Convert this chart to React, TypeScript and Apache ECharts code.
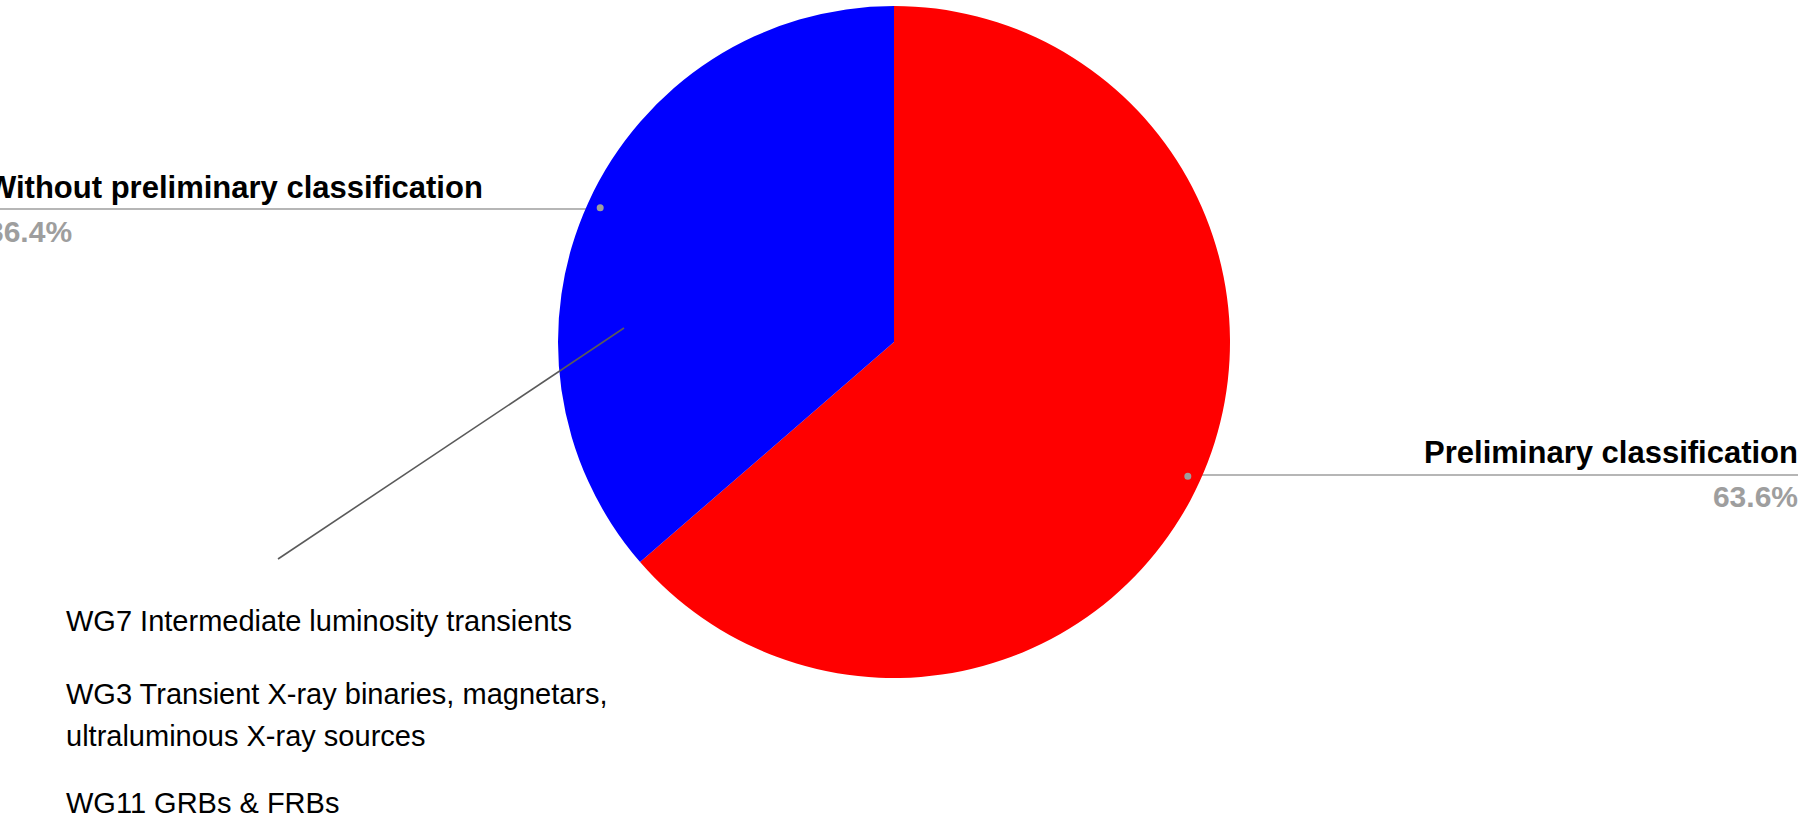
import React, { useEffect, useRef } from 'react';
import * as echarts from 'echarts';

// ---- data ----
const categories = ['Preliminary classification', 'Without preliminary classification'];
const counts = [7, 4];
const sliceColors = ['#ff0000', '#0000ff'];
const notes = [
  'WG7 Intermediate luminosity transients',
  'WG3 Transient X-ray binaries, magnetars,\nultraluminous X-ray sources',
  'WG11 GRBs & FRBs',
];

// ---- layout ----
const W = 1818;
const H = 820;
const CX = 894;
const CY = 342;
const R = 336;
const DOT_R = 320;
const RIGHT_EDGE = 1798;
const LEFT_EDGE = -13;
const NOTE_LEFT = 66;
const NOTE_TOPS = [600, 673, 782];
const LABEL_FONT = "'Liberation Sans', Arial, sans-serif";

export default function App() {
  const ref = useRef<HTMLDivElement>(null);

  useEffect(() => {
    const chart = echarts.init(ref.current as HTMLDivElement, null, { renderer: 'svg' });

    const pieData = categories.map((name, i) => ({
      name,
      value: counts[i],
      itemStyle: { color: sliceColors[i] },
    }));
    const dotData = categories.map((name, i) => ({
      name,
      value: counts[i],
      itemStyle: { color: 'transparent' },
    }));

    chart.setOption({
      animation: false,
      backgroundColor: '#ffffff',
      series: [
        {
          type: 'pie',
          center: [CX, CY],
          radius: R,
          startAngle: 90,
          clockwise: true,
          avoidLabelOverlap: false,
          z: 2,
          data: pieData,
          itemStyle: { borderWidth: 0 },
          emphasis: { disabled: true },
          label: {
            show: true,
            position: 'outside',
            alignTo: 'edge',
            edgeDistance: 20,
            overflow: 'none',
            formatter: (p: any) => `{t|${p.name}}\n{p|${p.percent.toFixed(1)}%}`,
            rich: {
              t: { fontFamily: LABEL_FONT, fontWeight: 'bold', fontSize: 31, color: '#000000', lineHeight: 44 },
              p: { fontFamily: LABEL_FONT, fontWeight: 'bold', fontSize: 30, color: '#9e9e9e', lineHeight: 44 },
            },
          },
          labelLine: {
            show: true,
            showAbove: true,
            length: 4,
            length2: 4,
            lineStyle: { color: '#9e9e9e', width: 1.5 },
          },
          labelLayout: (params: any) => {
            const pts = params.labelLinePoints;
            if (!pts) return {};
            const p0 = pts[0];
            const k = DOT_R / R;
            const dx = CX + (p0[0] - CX) * k;
            const dy = CY + (p0[1] - CY) * k;
            const isLeft = p0[0] < CX;
            const ex = isLeft ? LEFT_EDGE : RIGHT_EDGE;
            return {
              x: ex,
              y: dy,
              labelLinePoints: [
                [dx, dy],
                [dx, dy],
                [ex, dy],
              ],
            };
          },
        },
        {
          type: 'pie',
          center: [CX, CY],
          radius: [DOT_R - 8, DOT_R + 8],
          startAngle: 90,
          clockwise: true,
          silent: true,
          z: 4,
          data: dotData,
          emphasis: { disabled: true },
          label: {
            show: true,
            position: 'inside',
            formatter: '{d| }',
            rich: {
              d: { width: 7, height: 7, borderRadius: 3.5, backgroundColor: '#9e9e9e' },
            },
          },
          labelLine: { show: false },
        },
      ],
      graphic: [
        {
          type: 'line',
          z: 100,
          shape: { x1: 624, y1: 328, x2: 278, y2: 559 },
          style: { stroke: '#5a5a5a', lineWidth: 1.6 },
        },
        ...notes.map((text, i) => ({
          type: 'text',
          z: 100,
          left: NOTE_LEFT,
          top: NOTE_TOPS[i],
          style: {
            text,
            fontFamily: 'Liberation Sans, Arial, sans-serif',
            fontSize: 29,
            lineHeight: 42,
            fill: '#000000',
          },
        })),
      ],
    });

    return () => {
      chart.dispose();
    };
  }, []);

  return (
    <div
      ref={ref}
      style={{ position: 'absolute', left: 0, top: 0, width: W, height: H }}
    />
  );
}
